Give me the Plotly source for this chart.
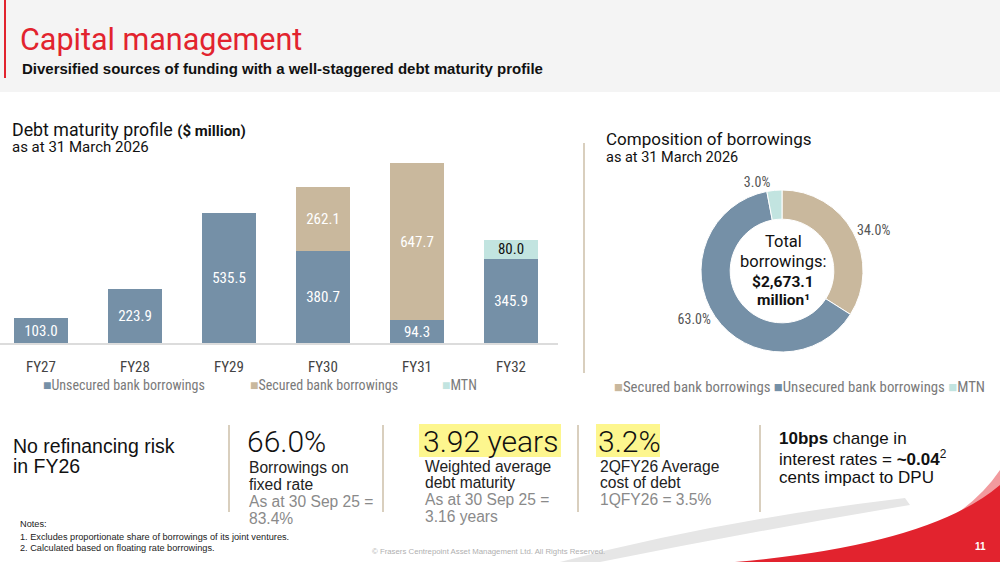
import plotly.graph_objects as go

W, H = 1000, 562
def px(x): return x / W
def py(y): return 1 - y / H

# ---------------- data ----------------
categories = ["FY27", "FY28", "FY29", "FY30", "FY31", "FY32"]
unsecured = [103.0, 223.9, 535.5, 380.7, 94.3, 345.9]
secured = [None, None, None, 262.1, 647.7, None]
mtn = [None, None, None, None, None, 80.0]

comp_labels = ["Secured bank borrowings", "Unsecured bank borrowings", "MTN"]
comp_values = [34.0, 63.0, 3.0]

C_UNSEC = "#7590a7"
C_SEC = "#c9b89d"
C_MTN = "#c2e4e0"
RED = "#e2232e"
TAN_LINE = "#cdbfa8"

NARROW = "Liberation Sans Narrow, Roboto Condensed, Roboto, sans-serif"
SANS = "Roboto, Liberation Sans, sans-serif"
ARIAL = "Liberation Sans, Arial, sans-serif"

fig = go.Figure()

def nonnull(cats, vals):
    pairs = [(c, v) for c, v in zip(cats, vals) if v is not None]
    return [p[0] for p in pairs], [p[1] for p in pairs]

series = [
    ("Unsecured bank borrowings", unsecured, C_UNSEC, "white"),
    ("Secured bank borrowings", secured, C_SEC, "white"),
    ("MTN", mtn, C_MTN, "#111111"),
]
for name, vals, col, tcol in series:
    xs, ys = nonnull(categories, vals)
    fig.add_trace(go.Bar(
        x=xs, y=ys, name=name,
        marker=dict(color=col, line=dict(width=0)),
        texttemplate="%{y:.1f}", textposition="inside", insidetextanchor="middle",
        textangle=0, constraintext="none",
        textfont=dict(color=tcol, size=15, family=NARROW),
        xaxis="x", yaxis="y", showlegend=False,
    ))

# donut
pie_cx, pie_cy, pie_r = 782, 271, 81
fig.add_trace(go.Pie(
    labels=comp_labels, values=comp_values, sort=False, direction="clockwise",
    rotation=0, hole=0.64,
    marker=dict(colors=[C_SEC, C_UNSEC, C_MTN], line=dict(color="white", width=1)),
    texttemplate="%{value:.1f}%", textposition="outside",
    textfont=dict(color="#555555", size=14, family=NARROW),
    domain=dict(x=[px(pie_cx - pie_r), px(pie_cx + pie_r)],
                y=[py(pie_cy + pie_r), py(pie_cy - pie_r)]),
    showlegend=False, hoverinfo="label+percent",
))

# axes for bar chart
x_left, x_right = 0, 558
y_base, y_top = 343, 150
scale = 0.2426
fig.update_layout(
    barmode="stack", bargap=0.426,
    xaxis=dict(domain=[px(x_left), px(x_right)], range=[-0.436, 5.5],
               categoryorder="array", categoryarray=categories,
               showline=True, linecolor="#dcdcdc", linewidth=2,
               showgrid=False, zeroline=False, ticks="",
               ticklabelstandoff=9,
               tickfont=dict(size=15, color="#444444", family=NARROW),
               fixedrange=True),
    yaxis=dict(domain=[py(y_base), py(y_top)], range=[0, (y_base - y_top) / scale],
               visible=False, fixedrange=True),
    width=W, height=H, margin=dict(l=0, r=0, t=0, b=0),
    paper_bgcolor="white", plot_bgcolor="rgba(0,0,0,0)",
    uniformtext=dict(minsize=10, mode="show"),
)

shapes = []
def P(x, y):
    return f"{px(x):.4f},{py(y):.4f}"
# header band
shapes.append(dict(type="rect", xref="paper", yref="paper", x0=0, x1=1, y0=py(92), y1=1,
                   fillcolor="#f4f4f4", line=dict(width=0), layer="below"))
shapes.append(dict(type="line", xref="paper", yref="paper", x0=px(5), x1=px(5), y0=py(78), y1=py(0),
                   line=dict(color=RED, width=2)))
# separators
shapes.append(dict(type="line", xref="paper", yref="paper", x0=px(584), x1=px(584), y0=py(373), y1=py(143),
                   line=dict(color=TAN_LINE, width=1.5)))
for xs in [229, 383, 578, 760]:
    shapes.append(dict(type="line", xref="paper", yref="paper", x0=px(xs), x1=px(xs), y0=py(512), y1=py(425),
                       line=dict(color=TAN_LINE, width=1.5)))
# highlights
shapes.append(dict(type="rect", xref="paper", yref="paper", x0=px(419), x1=px(561), y0=py(457), y1=py(424),
                   fillcolor="#fdf68e", line=dict(width=0), layer="below"))
shapes.append(dict(type="rect", xref="paper", yref="paper", x0=px(596), x1=px(660), y0=py(457), y1=py(424),
                   fillcolor="#fdf68e", line=dict(width=0), layer="below"))
# swooshes
shapes.append(dict(type="path", xref="paper", yref="paper",
                   path=f"M {P(560,562)} Q {P(720,520)} {P(905,498)} L {P(910,505)} Q {P(760,530)} {P(600,562)} Z",
                   fillcolor="#e6e6e6", line=dict(width=0), layer="below"))
shapes.append(dict(type="path", xref="paper", yref="paper",
                   path=f"M {P(820,562)} Q {P(900,545)} {P(960,520)} L {P(975,515)} Q {P(920,545)} {P(880,562)} Z",
                   fillcolor="#dddddd", line=dict(width=0), layer="below"))
shapes.append(dict(type="path", xref="paper", yref="paper",
                   path=f"M {P(850,562)} Q {P(960,530)} {P(1000,470)} L {P(1000,562)} Z",
                   fillcolor="#f29a9e", line=dict(width=0), layer="below"))
shapes.append(dict(type="path", xref="paper", yref="paper",
                   path=f"M {P(735,562)} Q {P(930,545)} {P(1000,485)} L {P(1000,562)} Z",
                   fillcolor=RED, line=dict(width=0), layer="below"))
fig.update_layout(shapes=shapes)

ann = []
def T(x, y, text, size, color="#111111", family=SANS, xanchor="left", weight="normal"):
    ann.append(dict(xref="paper", yref="paper", x=px(x), y=py(y), text=text, showarrow=False,
                    font=dict(size=size, color=color, family=family, weight=weight),
                    xanchor=xanchor, yanchor="middle", align="left"))

T(18, 40, "Capital management", 30.5, RED, SANS)
T(20, 68, "<b>Diversified sources of funding with a well-staggered debt maturity profile</b>", 15, "#111111", ARIAL)

T(10, 129, "Debt maturity profile <span style='font-size:15px'><b>($ million)</b></span>", 17.8, "#111111", SANS)
T(10, 147, "as at 31 March 2026", 15, "#111111", SANS)

leg_col = "#7a7a7a"
T(41, 385, f"<span style='color:{C_UNSEC}'>■</span>Unsecured bank borrowings", 14, leg_col, NARROW)
T(248, 385, f"<span style='color:{C_SEC}'>■</span>Secured bank borrowings", 14, leg_col, NARROW)
T(440, 385, f"<span style='color:{C_MTN}'>■</span>MTN", 14, leg_col, NARROW)

T(604, 139, "Composition of borrowings", 17, "#111111", SANS)
T(604, 157.5, "as at 31 March 2026", 14.5, "#111111", SANS)

T(pie_cx + 1, 241, "Total", 16.5, "#111111", SANS, xanchor="center")
T(pie_cx + 1, 261, "borrowings:", 16.5, "#111111", SANS, xanchor="center")
T(pie_cx + 1, 282, "<b>$2,673.1</b>", 15.5, "#111111", SANS, xanchor="center")
T(pie_cx + 1, 300, "<b>million¹</b>", 15.5, "#111111", SANS, xanchor="center")

T(612, 387, f"<span style='color:{C_SEC}'>■</span>Secured bank borrowings "
            f"<span style='color:{C_UNSEC}'>■</span>Unsecured bank borrowings "
            f"<span style='color:{C_MTN}'>■</span>MTN", 14.8, leg_col, NARROW)

# bottom KPIs
T(11, 446, "No refinancing risk", 19.5, "#111111", ARIAL)
T(11, 466, "in FY26", 19.5, "#111111", ARIAL)

T(245, 441, "66.0%", 30, "#111111", SANS, weight=300)
T(247, 467, "Borrowings on", 15.6, "#222222", ARIAL)
T(247, 484, "fixed rate", 15.6, "#222222", ARIAL)
T(247, 501, "As at 30 Sep 25 =", 15.6, "#8a8a8a", ARIAL)
T(247, 518, "83.4%", 15.6, "#8a8a8a", ARIAL)

T(421, 441, "3.92 years", 30, "#111111", SANS, weight=300)
T(423, 466, "Weighted average", 15.6, "#222222", ARIAL)
T(423, 482, "debt maturity", 15.6, "#222222", ARIAL)
T(423, 499, "As at 30 Sep 25 =", 15.6, "#8a8a8a", ARIAL)
T(423, 516, "3.16 years", 15.6, "#8a8a8a", ARIAL)

T(596, 441, "3.2%", 30, "#111111", SANS, weight=300)
T(598, 466, "2QFY26 Average", 15.6, "#222222", ARIAL)
T(598, 482, "cost of debt", 15.6, "#222222", ARIAL)
T(598, 499, "1QFY26 = 3.5%", 15.6, "#8a8a8a", ARIAL)

T(777, 438, "<b>10bps</b> change in", 17, "#111111", ARIAL)
T(777, 458, "interest rates = <b>~0.04</b><sup>2</sup>", 17, "#111111", ARIAL)
T(777, 477, "cents impact to DPU", 17, "#111111", ARIAL)

T(18, 524, "Notes:", 9.2, "#222222", ARIAL)
T(18, 537, "1. Excludes proportionate share of borrowings of its joint ventures.", 9.2, "#222222", ARIAL)
T(18, 548, "2. Calculated based on floating rate borrowings.", 9.2, "#222222", ARIAL)
T(488, 551, "© Frasers Centrepoint Asset Management Ltd. All Rights Reserved.", 7.8, "#b0b0b0", ARIAL, xanchor="center")
T(980, 546, "<b>11</b>", 10, "white", ARIAL, xanchor="center")

fig.update_layout(annotations=ann)
fig.write_html("out.html")
